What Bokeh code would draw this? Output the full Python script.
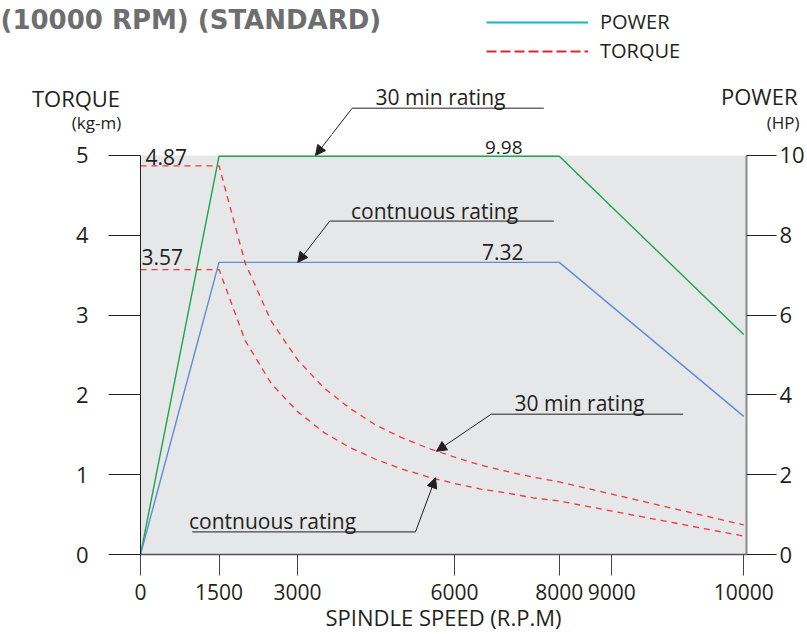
import numpy as np
from bokeh.plotting import figure
from bokeh.layouts import column
from bokeh.models import (Range1d, LinearAxis, FixedTicker, BoxAnnotation, Label,
                          Arrow, NormalHead, Legend, LegendItem)
from bokeh.embed import file_html
from bokeh.resources import INLINE

# ---------------- data ----------------
speed_ticks = [0, 1500, 3000, 6000, 8000, 9000, 10000]
torque_ticks = [0, 1, 2, 3, 4, 5]
power_ticks = [0, 2, 4, 6, 8, 10]

power_rpm = [0, 1500, 8000, 10000]
power_30min_hp = [0, 9.98, 9.98, 5.51]
power_cont_hp = [0, 7.32, 7.32, 3.46]

torque_rpm = [0, 1500, 2000, 2500, 3000, 3500, 4000, 4500, 5000, 5500,
              6000, 6500, 7000, 7500, 8000, 10000]
torque_30min_kgm = [4.87, 4.87, 3.65, 2.92, 2.44, 2.09, 1.83, 1.62, 1.46, 1.33,
                    1.22, 1.12, 1.04, 0.97, 0.91, 0.37]
torque_cont_kgm = [3.57, 3.57, 2.68, 2.14, 1.79, 1.53, 1.34, 1.19, 1.07, 0.97,
                   0.89, 0.82, 0.77, 0.71, 0.67, 0.23]

# the drawing's speed axis is not to scale past 9000 rpm
AXIS_BREAK = 9000
STRETCH = 2.523


def axis_pos(rpm):
    r = np.asarray(rpm, dtype=float)
    return np.round(np.where(r <= AXIS_BREAK, r, AXIS_BREAK + (r - AXIS_BREAK) * STRETCH), 3)


TEXT = "#231f20"
FONT = "Open Sans"
GREEN = "#1aa64a"
BLUE = "#5b8fd5"
RED = "#f5333f"

HEAD_H = 134                       # header strip height (px)
PX_PER_Y = 80.2                    # px per kg-m
X_END = 11576                      # axis units across the grey frame
UNITS_PER_PX = X_END / 606.0
Y_TOP = (556 - HEAD_H) / PX_PER_Y  # torque at the top of the main frame

# ---------------- header strip (titles, legend, top callout) ----------------
head = figure(width=807, height=HEAD_H,
              x_range=Range1d(-140 * UNITS_PER_PX, 667 * UNITS_PER_PX),
              y_range=Range1d(Y_TOP, Y_TOP + HEAD_H / PX_PER_Y),
              output_backend="svg", toolbar_location=None,
              x_axis_location=None, y_axis_location=None, min_border=0,
              frame_align=False)
head.outline_line_color = None
head.grid.visible = False
head.background_fill_color = "white"
head.border_fill_color = "white"

# ---------------- main chart ----------------
p = figure(width=807, height=634 - HEAD_H,
           x_range=Range1d(0, X_END), y_range=Range1d(0, Y_TOP),
           output_backend="svg", toolbar_location=None,
           min_border_left=140, min_border_right=61,
           min_border_top=0, min_border_bottom=78, frame_align=False)
p.extra_y_ranges = {"hp": Range1d(0, 2 * Y_TOP)}
p.outline_line_color = None
p.grid.visible = False
p.background_fill_color = "white"
p.border_fill_color = "white"

# grey chart area
p.add_layout(BoxAnnotation(left=0, bottom=0, top=5, fill_color="#e6e7e8",
                           fill_alpha=1, line_color=None, level="underlay"))

# curves
xp = axis_pos(power_rpm)
xt = axis_pos(torque_rpm)
p.line(xp, power_30min_hp, y_range_name="hp", line_color=GREEN, line_width=1.4)
p.line(xp, power_cont_hp, y_range_name="hp", line_color=BLUE, line_width=1.4)
p.line(xt, torque_30min_kgm, line_color=RED, line_width=1.3, line_dash="6 5")
p.line(xt, torque_cont_kgm, line_color=RED, line_width=1.3, line_dash="6 5")

# ---------------- axes ----------------
xa = p.xaxis[0]
tick_pos = [float(v) for v in axis_pos(speed_ticks)]
xa.ticker = FixedTicker(ticks=tick_pos)
xa.major_label_overrides = {pos: str(t) for pos, t in zip(tick_pos, speed_ticks)}
xa.major_tick_in = 0
xa.major_tick_out = 21
xa.minor_tick_line_color = None
xa.axis_line_color = "#555555"
xa.axis_line_width = 1.5
xa.major_tick_line_color = "#444444"
xa.major_label_standoff = 8
xa.major_label_text_font = FONT
xa.major_label_text_font_size = "21px"
xa.major_label_text_color = TEXT
xa.axis_label = "SPINDLE SPEED (R.P.M)"
xa.axis_label_text_font = FONT
xa.axis_label_text_font_size = "22px"
xa.axis_label_text_font_style = "normal"
xa.axis_label_text_color = TEXT
xa.axis_label_standoff = -1

ya = p.yaxis[0]
ya.ticker = FixedTicker(ticks=torque_ticks)
ya.bounds = (0, 5)
ya.major_tick_in = 0
ya.major_tick_out = 32
ya.minor_tick_line_color = None
ya.axis_line_color = TEXT
ya.major_tick_line_color = TEXT
ya.major_label_standoff = 20
ya.major_label_text_font = FONT
ya.major_label_text_font_size = "22px"
ya.major_label_text_color = TEXT

ra = LinearAxis(y_range_name="hp", ticker=FixedTicker(ticks=power_ticks), bounds=(0, 10))
ra.major_tick_in = 0
ra.major_tick_out = 30
ra.minor_tick_line_color = None
ra.axis_line_color = "#8a8a8a"
ra.axis_line_width = 2
ra.major_tick_line_color = TEXT
ra.major_label_standoff = 3
ra.major_label_text_font = FONT
ra.major_label_text_font_size = "22px"
ra.major_label_text_color = TEXT
p.add_layout(ra, "right")


# ---------------- texts ----------------
def label(fig, x, y, text, size, align="center", baseline="middle", font=FONT,
          style="normal", color=TEXT):
    fig.add_layout(Label(x=x, y=y, text=text, text_font=font, text_font_size=size,
                         text_font_style=style, text_color=color,
                         text_align=align, text_baseline=baseline))


def callout(fig, leader_figs, text, tx, ty, ux0, ux1, uy, ax, ay, from_right=False):
    # leader_figs share the same data coordinates; each draws what lies in its frame
    label(fig, tx, ty, text, "21px")
    fig.add_layout(Arrow(x_start=ux0, y_start=uy, x_end=ux1, y_end=uy, end=None,
                         line_color=TEXT, line_width=1))
    sx = ux1 if from_right else ux0
    for f in leader_figs:
        f.add_layout(Arrow(x_start=sx, y_start=uy, x_end=ax, y_end=ay,
                           end=NormalHead(size=10, fill_color=TEXT, line_color=TEXT,
                                          line_width=1),
                           line_color=TEXT, line_width=1))


label(head, -2674, 6.690, "(10000 RPM) (STANDARD)", "26px", align="left",
      baseline="alphabetic", font="DejaVu Sans", style="bold", color="#6d6e70")
label(head, -1232, 5.719, "TORQUE", "22px")
label(head, -840, 5.4115, "(kg-m)", "17px")
label(head, 12550, 5.736, "POWER", "22px", align="right")
label(head, 12590, 5.4115, "(HP)", "17px", align="right")
callout(head, [head, p], "30 min rating", 5731, 5.727, 4044, 7704, 5.590, 3343, 5.0)

label(p, 7297, 5.0998, "9.98", "19px", align="right")
label(p, 96, 4.975, "4.87", "21px", align="left")
label(p, 19, 3.732, "3.57", "21px", align="left")
label(p, 7316, 3.794, "7.32", "21px", align="right")
callout(p, [p], "contnuous rating", 5616, 4.306, 3616, 7895, 4.177, 3005, 3.66)
callout(p, [p], "30 min rating", 8386, 1.904, 6699, 10367, 1.758, 5654, 1.293)
callout(p, [p], "contnuous rating", 2522, 0.424, 988, 5253, 0.283, 5635, 0.960,
        from_right=True)

# ---------------- legend ----------------
r_pow = head.line(x=[np.nan], y=[np.nan], line_color="#19b3c3", line_width=2)
r_tor = head.line(x=[np.nan], y=[np.nan], line_color="#d7282f", line_width=2, line_dash="10 4")
legend = Legend(items=[LegendItem(label="POWER", renderers=[r_pow]),
                       LegendItem(label="TORQUE", renderers=[r_tor])],
                location=(486, HEAD_H - 64), orientation="vertical",
                glyph_width=102, glyph_height=20, label_height=20,
                label_standoff=12, spacing=2, padding=0, margin=0,
                border_line_color=None, background_fill_alpha=0,
                label_text_font=FONT, label_text_font_size="20px",
                label_text_color=TEXT)
head.add_layout(legend)

layout = column(head, p, spacing=0)
open("out.html", "w").write(file_html(layout, INLINE))
